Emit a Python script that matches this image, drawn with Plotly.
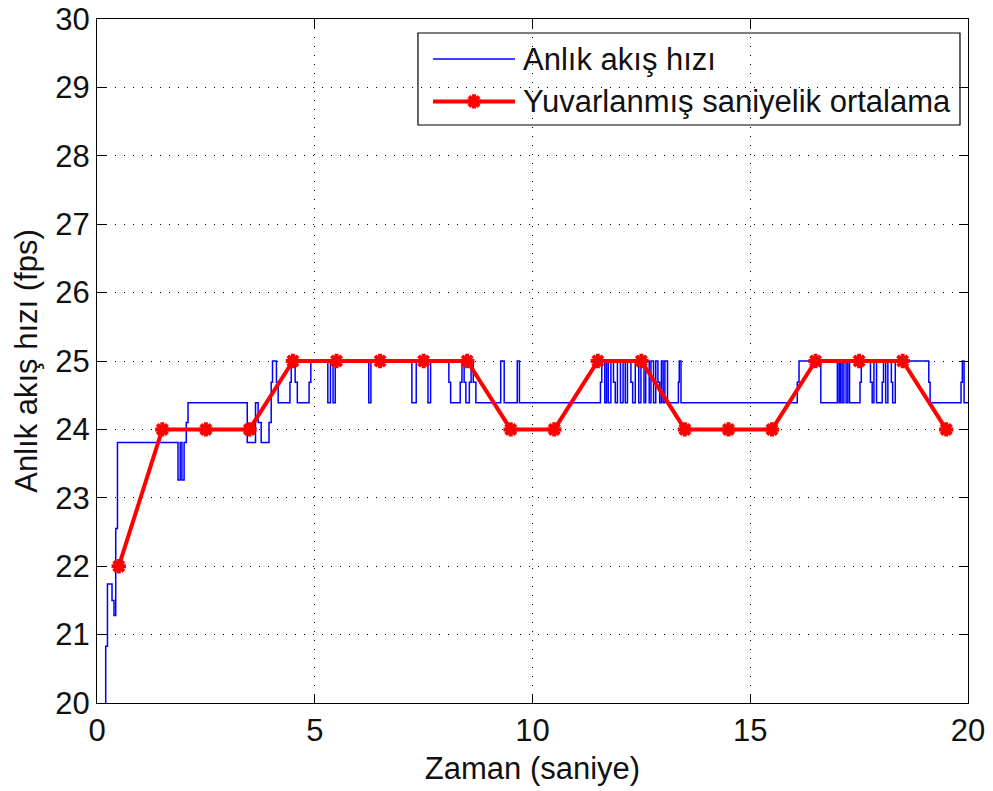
import plotly.graph_objects as go

# Instantaneous frame rate (step changes): time of change [s] and fps value
blue_t = [0.19, 0.20, 0.24, 0.345, 0.39, 0.43, 0.47, 1.86, 1.91, 1.95, 2.00, 2.05, 2.09,
          3.45, 3.64, 3.70, 3.77, 3.95, 4.00, 4.03, 4.12, 4.16, 4.43, 4.46, 4.55, 4.60,
          4.87, 4.91, 5.30, 5.36, 5.42, 5.47, 6.24, 6.29, 7.23, 7.33, 7.60, 7.66,
          8.08, 8.12, 8.34, 8.38, 8.43, 8.47, 8.55, 8.59, 8.64, 8.70, 9.27, 9.35,
          9.65, 9.70, 11.56, 11.59, 11.66, 11.70, 11.74, 11.80, 11.86, 11.90, 11.95,
          12.02, 12.08, 12.13, 12.18, 12.26, 12.30, 12.36, 12.44, 12.49, 12.56, 12.60,
          12.68, 12.72, 12.78, 12.83, 12.88, 12.92, 12.96, 13.00, 13.04, 13.10, 13.35,
          13.37, 13.41, 16.08, 16.12, 16.62, 17.00, 17.04, 17.07, 17.11, 17.15, 17.20,
          17.24, 17.28, 17.52, 17.55, 17.76, 17.80, 17.84, 17.90, 18.03, 18.06, 18.11,
          18.16, 18.24, 18.27, 18.33, 19.10, 19.13, 19.84, 19.87, 19.91, 20.00]
blue_v = [20.0, 20.83, 21.74, 21.5, 21.28, 22.55, 23.81, 23.26, 23.81, 23.26, 23.81, 24.1, 24.39,
          23.81, 24.39, 24.1, 23.81, 24.1, 24.69, 25.0, 24.69, 24.39, 24.69, 25.0, 24.69, 24.39,
          24.69, 25.0, 24.39, 25.0, 24.39, 25.0, 24.39, 25.0, 24.39, 25.0, 24.39, 25.0,
          24.69, 24.39, 24.69, 25.0, 24.69, 24.39, 24.69, 25.0, 24.69, 24.39, 25.0, 24.39,
          25.0, 24.39, 24.69, 25.0, 24.39, 25.0, 24.39, 25.0, 24.69, 24.39, 25.0,
          24.39, 25.0, 24.39, 25.0, 24.69, 24.39, 25.0, 24.39, 25.0, 24.39, 25.0,
          24.39, 25.0, 24.39, 25.0, 24.69, 24.39, 25.0, 24.39, 25.0, 24.39, 24.69,
          25.0, 24.39, 24.69, 25.0, 24.39, 25.0, 24.39, 25.0, 24.39, 25.0, 24.39,
          25.0, 24.39, 24.69, 25.0, 24.69, 24.39, 25.0, 24.39, 24.69, 25.0, 24.39,
          25.0, 24.69, 24.39, 25.0, 24.69, 24.39, 24.69, 25.0, 24.39, 24.39]

# Rounded per-second average
avg_t = [0.5, 1.5, 2.5, 3.5, 4.5, 5.5, 6.5, 7.5, 8.5, 9.5,
         10.5, 11.5, 12.5, 13.5, 14.5, 15.5, 16.5, 17.5, 18.5, 19.5]
avg_v = [22, 24, 24, 24, 25, 25, 25, 25, 25, 24,
         24, 25, 25, 24, 24, 24, 25, 25, 25, 24]

x_ticks = [0, 5, 10, 15, 20]
y_ticks = [20, 21, 22, 23, 24, 25, 26, 27, 28, 29, 30]

series_names = ["Anlık akış hızı", "Yuvarlanmış saniyelik ortalama"]
x_title = "Zaman (saniye)"
y_title = "Anlık akış hızı (fps)"

FONT = "Liberation Sans, Arial, sans-serif"
FSIZE = 31
BLUE = "#0000ff"
RED = "#ff0000"
red_marker = dict(symbol="asterisk-open", size=12, color=RED, line=dict(color=RED, width=4))

fig = go.Figure()

fig.add_trace(go.Scatter(
    x=blue_t, y=blue_v, mode="lines", line=dict(color=BLUE, width=1.5, shape="hv"),
    showlegend=False, hoverinfo="skip"))

fig.add_trace(go.Scatter(
    x=avg_t, y=avg_v, mode="lines+markers",
    line=dict(color=RED, width=4), marker=red_marker, showlegend=False))

# Legend drawn on an overlay axis spanning the plot area (0..1 in both directions)
leg_x0, leg_x1 = 0.3685, 0.9908
leg_y0, leg_y1 = 0.845, 0.9795
row_y = [0.9415, 0.8795]
sample_x = [0.3858, 0.4799]
text_x = 0.4865

fig.add_shape(type="rect", xref="paper", yref="paper",
              x0=leg_x0, x1=leg_x1, y0=leg_y0, y1=leg_y1,
              line=dict(color="black", width=1.2), fillcolor="white", layer="between")

fig.add_trace(go.Scatter(
    x=sample_x, y=[row_y[0]] * 2, xaxis="x2", yaxis="y2", mode="lines",
    line=dict(color=BLUE, width=1.5), showlegend=False, hoverinfo="skip"))
fig.add_trace(go.Scatter(
    x=sample_x, y=[row_y[1]] * 2, xaxis="x2", yaxis="y2", mode="lines",
    line=dict(color=RED, width=4), showlegend=False, hoverinfo="skip"))
fig.add_trace(go.Scatter(
    x=[sum(sample_x) / 2], y=[row_y[1]], xaxis="x2", yaxis="y2", mode="markers",
    marker=red_marker, showlegend=False, hoverinfo="skip"))

for name, yy in zip(series_names, row_y):
    fig.add_annotation(x=text_x, y=yy, xref="paper", yref="paper", text=name,
                       showarrow=False, xanchor="left", yanchor="middle",
                       font=dict(family=FONT, size=FSIZE, color="#111"))

axis_common = dict(
    showline=True, linecolor="black", linewidth=1.2, mirror="allticks",
    ticks="inside", ticklen=9, tickcolor="black", tickwidth=1,
    showgrid=True, gridcolor="black", gridwidth=1, griddash="1px,8px",
    zeroline=False, automargin=False,
    tickfont=dict(family=FONT, size=FSIZE, color="#111"),
)

fig.update_layout(
    width=993, height=791,
    margin=dict(l=97, r=25, t=19, b=88),
    paper_bgcolor="white", plot_bgcolor="white",
    font=dict(family=FONT, color="#111"),
    xaxis=dict(range=[0, 20], tickvals=x_ticks, **axis_common,
               title=dict(text=x_title, font=dict(family=FONT, size=FSIZE), standoff=10)),
    yaxis=dict(range=[20, 30], tickvals=y_ticks, **axis_common,
               title=dict(text=y_title, font=dict(family=FONT, size=FSIZE), standoff=8)),
    xaxis2=dict(range=[0, 1], overlaying="x", visible=False, fixedrange=True),
    yaxis2=dict(range=[0, 1], overlaying="y", visible=False, fixedrange=True),
)

fig.write_html("out.html")
